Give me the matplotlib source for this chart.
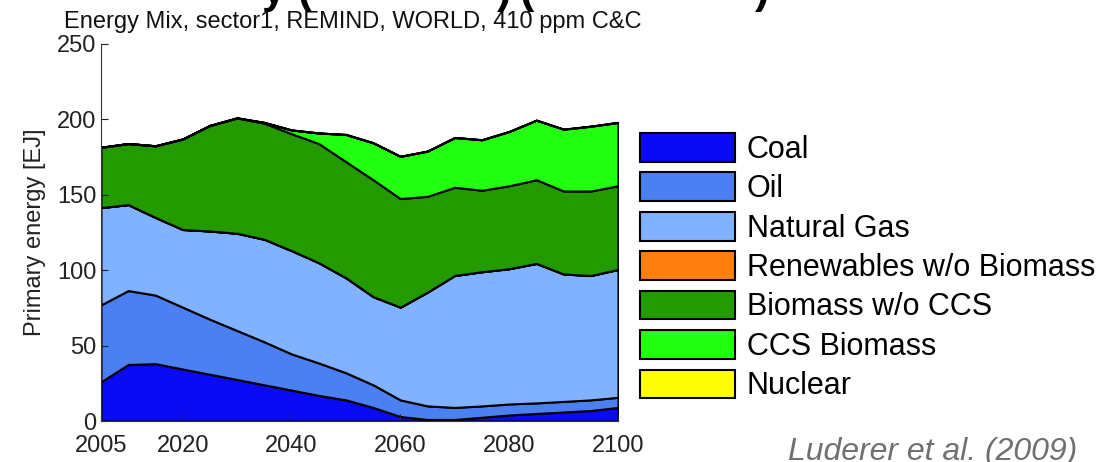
import numpy as np
import matplotlib.pyplot as plt

plt.rcParams['font.family'] = ['Liberation Sans', 'DejaVu Sans']

years = [2005, 2010, 2015, 2020, 2025, 2030, 2035, 2040, 2045, 2050,
         2055, 2060, 2065, 2070, 2075, 2080, 2085, 2090, 2095, 2100]

coal = [26, 37.5, 38, 34.5, 31, 27.5, 24, 20.5, 17, 14,
        9, 3, 1, 1, 2.5, 4, 5, 6, 7, 9]
oil = [51, 49, 45.5, 41, 36.5, 32.5, 28.5, 24, 21.5, 18,
       15, 11, 9, 8, 7.5, 7.3, 7, 7, 7, 6.7]
gas = [64.5, 57, 51.5, 51.5, 58.5, 64.5, 68, 68.5, 66.5, 63,
       58.5, 61.5, 75.5, 87.5, 89, 89.7, 92.5, 84.5, 82.5, 84.8]
renewables = [0] * 20
biomass = [40, 40.5, 47.5, 60, 70, 76.5, 77, 77.5, 79, 77,
           77.5, 72, 63.5, 58.5, 54, 55, 55.5, 55, 56, 55.5]
ccs_biomass = [0, 0, 0, 0, 0, 0, 0.5, 2.5, 7, 18,
               24.5, 28, 30, 33, 33.5, 36, 39.5, 41, 43, 42]
nuclear = [0] * 20

labels = ['Coal', 'Oil', 'Natural Gas', 'Renewables w/o Biomass',
          'Biomass w/o CCS', 'CCS Biomass', 'Nuclear']
colors = ['#0a0af5', '#4a80f2', '#80b2ff', '#ff8010',
          '#229a00', '#22ff10', '#ffff00']

fig = plt.figure(figsize=(11.12, 4.62), dpi=100)
ax = fig.add_axes([101/1112, 41/462, 517/1112, 377/462])

polys = ax.stackplot(years, coal, oil, gas, renewables, biomass, ccs_biomass, nuclear,
                     colors=colors, labels=labels, edgecolor='black', linewidth=1.5)

ax.set_xlim(2005, 2100)
ax.set_ylim(0, 250)
ax.set_xticks([2005, 2020, 2040, 2060, 2080, 2100])
ax.set_yticks([0, 50, 100, 150, 200, 250])
ax.tick_params(direction='in', length=5, labelsize=17, colors='#222222')
ax.tick_params(axis='x', pad=10)
for s in ['top', 'right']:
    ax.spines[s].set_visible(False)
ax.spines['left'].set_color('#333333')
ax.spines['bottom'].set_color('#333333')
ax.set_ylabel('Primary energy [EJ]', fontsize=17, color='#222222', labelpad=8)

fig.text(353/1112, 1 - 28/462, 'Energy Mix, sector1, REMIND, WORLD, 410 ppm C&C',
         fontsize=17, ha='center', va='baseline', color='#111111')

# slide heading, cut off at the top of the picture
for txt, xp in [('y (', 262), (')', 497), ('(', 520), (')', 755)]:
    fig.text(xp/1112, 1 - 3/462, txt, fontsize=31, fontweight='bold',
             ha='left', va='baseline', color='black')

fig.legend(handles=polys, labels=labels, loc='upper left',
           bbox_to_anchor=(640/1112, 1 - 133/462), frameon=False, fontsize=22,
           handlelength=3.1, handleheight=1.07, handletextpad=0.4,
           labelspacing=0.25, borderpad=0, borderaxespad=0)

fig.text(1077/1112, 1 - 460/462, 'Luderer et al. (2009)', fontsize=23, style='italic',
         ha='right', va='baseline', color='#707070')

fig.savefig('out.png', dpi=100)
